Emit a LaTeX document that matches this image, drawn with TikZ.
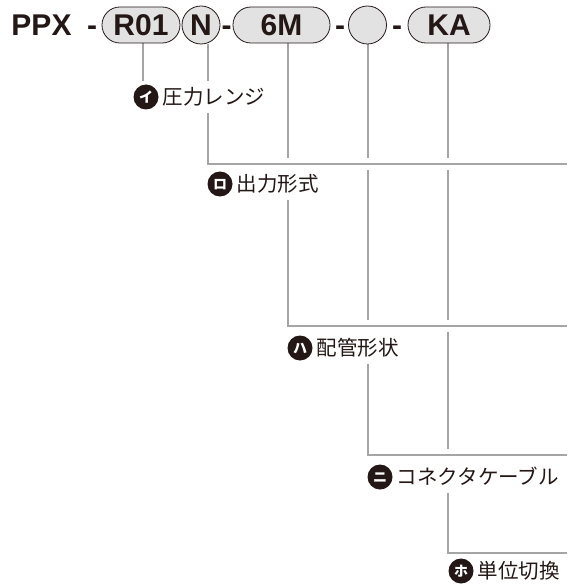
\documentclass[tikz,border=0pt]{standalone}
\usepackage{fontspec}
\setmainfont{Liberation Sans}
\newfontfamily\jpfont{Noto Sans CJK JP}
\usetikzlibrary{positioning}
\definecolor{inkdark}{RGB}{35, 24, 21}
\definecolor{leadgray}{RGB}{165, 165, 165}
\definecolor{boxgray}{RGB}{226, 226, 226}
\pgfdeclarelayer{leads}
\pgfsetlayers{leads,main}

\begin{document}
\begin{tikzpicture}[x=1pt, y=-1pt,
          codetext/.style={font=\fontsize{30}{30}\selectfont\bfseries, text=inkdark, inner sep=0pt, text height=21.5pt, text depth=0pt},
          codebox/.style={codetext, draw=inkdark, line width=0.8pt, fill=boxgray, rounded corners=17.9pt, minimum height=36pt},
          codering/.style={codetext, draw=inkdark, line width=0.8pt, fill=boxgray, circle, minimum size=38pt},
          keyicon/.style={circle, fill=inkdark, text=white, inner sep=0pt, minimum size=25pt, font=\jpfont\bfseries\fontsize{14}{14}\selectfont, text height=12.3pt, text depth=1.7pt},
          keylabel/.style={fill=white, text=inkdark, inner xsep=1pt, inner ysep=6pt, font=\jpfont\fontsize{20.5}{20.5}\selectfont, text height=18pt, text depth=2.5pt},
          leadline/.style={leadgray, line width=2.4pt, preaction={draw=white, line width=12pt}}
        ]
          \useasboundingbox (0,0) rectangle (567,585);

          % model code
          \node[codetext] (ppx) at (41.5,25) {PPX};
          \node[codetext] (d1) at (92,25) {-};
          \node[codebox, minimum width=78pt] (r01) at (141,25) {R01};
          \node[codering] (n) at (201,25) {N};
          \node[codetext] (d2) at (226.5,25) {-};
          \node[codebox, minimum width=97pt] (m6) at (281.5,25) {6M};
          \node[codetext] (d3) at (340,25) {-};
          \node[codering] (blank) at (367.5,25) {};
          \node[codetext] (d4) at (397,25) {-};
          \node[codebox, minimum width=82pt] (ka) at (449,25) {KA};

          % keys
          \node[keyicon] (iI) at (146,97) {イ};
          \node[keylabel, right=3pt of iI] (lI) {圧力レンジ};
          \node[keyicon] (iRo) at (220,184) {ロ};
          \node[keylabel, right=3pt of iRo] (lRo) {出力形式};
          \node[keyicon] (iHa) at (300,348) {ハ};
          \node[keylabel, right=3pt of iHa] (lHa) {配管形状};
          \node[keyicon] (iNi) at (380,477) {ニ};
          \node[keylabel, right=3pt of iNi] (lNi) {コネクタケーブル};
          \node[keyicon] (iHo) at (461,571) {ホ};
          \node[keylabel, right=3pt of iHo] (lHo) {単位切換};

          \coordinate (eN) at (567,164);
          \coordinate (eM) at (567,326);
          \coordinate (eB) at (567,455);
          \coordinate (eK) at (567,553);

          \begin{pgfonlayer}{leads}
            \draw[leadline] ([xshift=-1pt]ka.south) |- (eK);
            \draw[leadline] ([xshift=0.5pt]blank.south) |- (eB);
            \draw[leadline] ([xshift=6.5pt]m6.south) |- (eM);
            \draw[leadline] ([xshift=7pt]n.south) |- (eN);
            \draw[leadline] ([xshift=2pt]r01.south) -- ([xshift=2pt]r01.south |- lI.north);
          \end{pgfonlayer}
        \end{tikzpicture}
\end{document}
